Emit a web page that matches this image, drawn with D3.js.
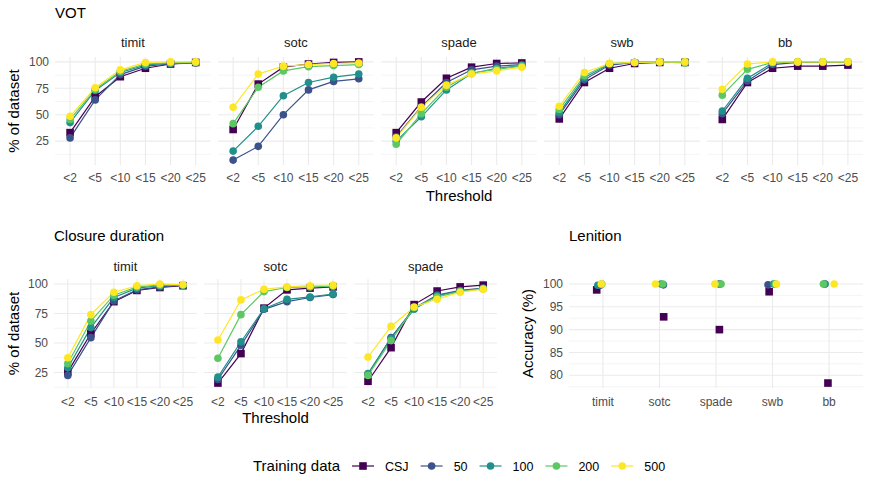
<!DOCTYPE html>
<html>
<head>
<meta charset="utf-8">
<script src="https://cdn.jsdelivr.net/npm/d3@7"></script>
<style>
  body { margin: 0; background: #fff; }
  svg { font-family: "Liberation Sans", Arial, sans-serif; }
</style>
</head>
<body>
<div id="chart"></div>
<script>
// ---- data ----
const thresholds = ["<2", "<5", "<10", "<15", "<20", "<25"];
const votCorpora = ["timit", "sotc", "spade", "swb", "bb"];
const closureCorpora = ["timit", "sotc", "spade"];
const lenitionCorpora = ["timit", "sotc", "spade", "swb", "bb"];
const groups = ["CSJ", "50", "100", "200", "500"];
const colors = ["#440154", "#3B528B", "#21908C", "#5DC863", "#FDE725"];

// VOT: % of dataset under each threshold, one array per training group
const votTimit = {
  "CSJ": [33, 67, 86, 94, 98, 99.5],
  "50":  [28, 64, 88, 96, 98, 99],
  "100": [42.5, 73, 90, 97, 99, 99.5],
  "200": [45.5, 74, 91, 98, 99, 99.5],
  "500": [48.5, 75.5, 92.5, 99.5, 100, 100]
};
const votSotc = {
  "CSJ": [36, 79, 95, 98, 99.5, 100],
  "50":  [7, 20, 50, 73.5, 81.5, 84],
  "100": [15.5, 39, 68, 80.5, 85.5, 88.5],
  "200": [41.5, 76, 91.5, 95.5, 96.5, 97.5],
  "500": [57, 88.5, 96, 97.5, 98.5, 99]
};
const votSpade = {
  "CSJ": [33, 62, 84.5, 95, 98.5, 99],
  "50":  [29, 57.5, 80.5, 92.5, 96, 97.5],
  "100": [25, 48, 73.5, 89, 94, 96.5],
  "200": [22, 51, 76, 89.5, 93, 96],
  "500": [28, 57, 78, 88.5, 91.5, 95]
};
const votSwb = {
  "CSJ": [46, 80.5, 94, 98.5, 99.5, 99.5],
  "50":  [50, 83, 97, 99.5, 100, 100],
  "100": [52, 85, 98, 99.5, 100, 100],
  "200": [55, 87, 98.5, 99.5, 100, 99],
  "500": [58, 90, 98.5, 99.5, 100, 100]
};
const votBb = {
  "CSJ": [45.5, 80.5, 94, 96, 96, 97],
  "50":  [51, 82, 97.5, 99.5, 99.5, 99.5],
  "100": [53.5, 84.5, 99, 100, 100, 100],
  "200": [68.5, 93, 99.5, 100, 100, 100],
  "500": [74, 98, 100, 100, 100, 100]
};

// Closure duration
const closureTimit = {
  "CSJ": [25.5, 58, 85, 94.5, 97, 98.5],
  "50":  [22.5, 54.5, 85.5, 95, 97.5, 99],
  "100": [29, 63, 88.5, 96.5, 98.5, 99],
  "200": [32.5, 68.5, 90.5, 97.5, 99, 99],
  "500": [37.5, 74, 93, 98.5, 100, 99.5]
};
const closureSotc = {
  "CSJ": [16, 41, 79.5, 95, 96.5, 97.5],
  "50":  [19, 48, 78.5, 85, 88.5, 91],
  "100": [21, 51, 79, 87, 89, 91.5],
  "200": [37, 74, 93.5, 97, 97.5, 98],
  "500": [52.5, 86.5, 95.5, 97.5, 98.5, 99]
};
const closureSpade = {
  "CSJ": [17.5, 46, 82.5, 94, 97.5, 99],
  "50":  [23.5, 54.5, 79.5, 90.5, 94.5, 96.5],
  "100": [24, 54, 78.5, 90, 94, 96],
  "200": [22.5, 52, 80, 89, 93.5, 96],
  "500": [38, 64, 80.5, 87, 93, 95.5]
};

// Lenition accuracy (%) per corpus, and the horizontal jitter (category units)
const lenitionAcc = {
  "CSJ": [98.7, 92.8, 90, 98.3, 78.3],
  "50":  [99.7, 99.8, 100, 99.8, 100],
  "100": [99.7, 100, 100, 100, 100],
  "200": [100, 100, 100, 100, 100],
  "500": [100, 100, 100, 100, 100]
};
const lenitionJitter = {
  "CSJ": [-0.11, 0.075, 0.06, -0.06, -0.02],
  "50":  [-0.05, 0.07, 0.06, -0.08, -0.08],
  "100": [-0.09, 0.03, 0.07, 0.02, -0.07],
  "200": [-0.02, 0.06, 0.09, 0.05, -0.10],
  "500": [-0.03, -0.07, -0.02, 0.07, 0.09]
};

const votTicks = [25, 50, 75, 100];
const lenitionTicks = [80, 85, 90, 95, 100];

// ---- drawing ----
const W = 869, H = 482;
const gridCol = "#EBEBEB", tickCol = "#4D4D4D", stripCol = "#1A1A1A";
const color = d3.scaleOrdinal().domain(groups).range(colors);

const svg = d3.select("#chart").append("svg")
  .attr("width", W).attr("height", H);

function expandExtent(vals) {
  const [lo, hi] = d3.extent(vals);
  const pad = (hi - lo) * 0.05;
  return [lo - pad, hi + pad];
}

function drawPoint(g, grp, x, y) {
  if (grp === "CSJ") {
    g.append("rect").attr("x", x - 3.8).attr("y", y - 3.8)
      .attr("width", 7.6).attr("height", 7.6).attr("fill", color(grp));
  } else {
    g.append("circle").attr("cx", x).attr("cy", y).attr("r", 3.8)
      .attr("fill", color(grp));
  }
}

function drawGrid(g, x, y, ticks, x0, x1, top, bottom) {
  const dom = y.domain();
  const step = ticks[1] - ticks[0];
  const minor = [];
  for (let v = ticks[0] - step / 2; v <= dom[1]; v += step) {
    if (v >= dom[0] && !ticks.includes(v)) minor.push(v);
  }
  g.selectAll(".minor").data(minor).join("line")
    .attr("x1", x0).attr("x2", x1)
    .attr("y1", d => y(d)).attr("y2", d => y(d))
    .attr("stroke", gridCol).attr("stroke-width", 0.55);
  g.selectAll(".major").data(ticks).join("line")
    .attr("x1", x0).attr("x2", x1)
    .attr("y1", d => y(d)).attr("y2", d => y(d))
    .attr("stroke", gridCol).attr("stroke-width", 1.1);
  g.selectAll(".vgrid").data(x.domain()).join("line")
    .attr("x1", d => x(d)).attr("x2", d => x(d))
    .attr("y1", top).attr("y2", bottom)
    .attr("stroke", gridCol).attr("stroke-width", 1.1);
}

function drawYAxis(y, ticks, xr) {
  svg.append("g").selectAll("text").data(ticks).join("text")
    .attr("x", xr).attr("y", d => y(d)).attr("dy", "0.35em")
    .attr("text-anchor", "end").attr("fill", tickCol)
    .style("font-size", "12px").text(d => d);
}

function drawXLabels(x, yText) {
  svg.append("g").selectAll("text").data(x.domain()).join("text")
    .attr("x", d => x(d)).attr("y", yText)
    .attr("text-anchor", "middle").attr("fill", tickCol)
    .style("font-size", "12px").text(d => d);
}

function text(x, y, str, size, opts = {}) {
  const t = svg.append("text").attr("x", x).attr("y", y)
    .attr("fill", opts.fill || "#000")
    .attr("text-anchor", opts.anchor || "start")
    .style("font-size", size + "px").text(str);
  if (opts.rotate) t.attr("transform", `rotate(-90,${x},${y})`);
  return t;
}

// one row of facets with lines + points
function facetRow(cfg) {
  const { corpora, tables, left, right, top, bottom, gap, title, titleY, stripY, tickY, xTitleY } = cfg;
  const n = corpora.length;
  const pw = (right - left - gap * (n - 1)) / n;
  const allVals = tables.flatMap(t => groups.flatMap(k => t[k]));
  const y = d3.scaleLinear().domain(expandExtent(allVals)).range([bottom, top]);

  corpora.forEach((corp, i) => {
    const x0 = left + i * (pw + gap);
    const x = d3.scalePoint().domain(thresholds).range([x0, x0 + pw]).padding(0.6);
    const g = svg.append("g");
    drawGrid(g, x, y, votTicks, x0, x0 + pw, top, bottom);

    const line = d3.line().x((d, j) => x(thresholds[j])).y(d => y(d));
    groups.forEach(k => {
      g.append("path").datum(tables[i][k])
        .attr("d", line).attr("fill", "none")
        .attr("stroke", color(k)).attr("stroke-width", 1.2);
    });
    groups.forEach(k => {
      tables[i][k].forEach((v, j) => drawPoint(g, k, x(thresholds[j]), y(v)));
    });

    text(x0 + pw / 2, stripY, corp, 13, { anchor: "middle", fill: stripCol });
    drawXLabels(x, tickY);
  });

  drawYAxis(y, votTicks, left - 6);
  text(left, titleY, title, 15);
  text((left + right) / 2, xTitleY, "Threshold", 15, { anchor: "middle" });
  text(19, (top + bottom) / 2, "% of dataset", 15, { anchor: "middle", rotate: true });
}

facetRow({
  corpora: votCorpora,
  tables: [votTimit, votSotc, votSpade, votSwb, votBb],
  left: 55, right: 863, top: 57, bottom: 165, gap: 7.3,
  title: "VOT", titleY: 18, stripY: 47, tickY: 182, xTitleY: 201
});

facetRow({
  corpora: closureCorpora,
  tables: [closureTimit, closureSotc, closureSpade],
  left: 54, right: 497, top: 279, bottom: 388, gap: 7.3,
  title: "Closure duration", titleY: 241, stripY: 271, tickY: 406, xTitleY: 423
});

// Lenition panel
(function () {
  const left = 569, right = 863, top = 279, bottom = 388;
  const allVals = groups.flatMap(k => lenitionAcc[k]);
  const y = d3.scaleLinear().domain(expandExtent(allVals)).range([bottom, top]);
  const x = d3.scalePoint().domain(lenitionCorpora).range([left, right]).padding(0.6);
  const g = svg.append("g");
  drawGrid(g, x, y, lenitionTicks, left, right, top, bottom);
  groups.forEach(k => {
    lenitionAcc[k].forEach((v, j) => {
      drawPoint(g, k, x(lenitionCorpora[j]) + lenitionJitter[k][j] * x.step(), y(v));
    });
  });
  drawYAxis(y, lenitionTicks, left - 6);
  drawXLabels(x, 406);
  text(left, 241, "Lenition", 15);
  text(533, (top + bottom) / 2, "Accuracy (%)", 15, { anchor: "middle", rotate: true });
})();

// Legend
(function () {
  const ly = 466;
  const title = text(253, ly + 5, "Training data", 15);
  let cx = 253 + title.node().getComputedTextLength() + 12;
  groups.forEach(k => {
    const g = svg.append("g");
    g.append("line").attr("x1", cx).attr("x2", cx + 22)
      .attr("y1", ly).attr("y2", ly)
      .attr("stroke", color(k)).attr("stroke-width", 1.2);
    drawPoint(g, k, cx + 11, ly);
    const lab = text(cx + 33, ly + 4.5, k, 12.5, { fill: "#000" });
    cx += 33 + lab.node().getComputedTextLength() + 12;
  });
})();
</script>
</body>
</html>
